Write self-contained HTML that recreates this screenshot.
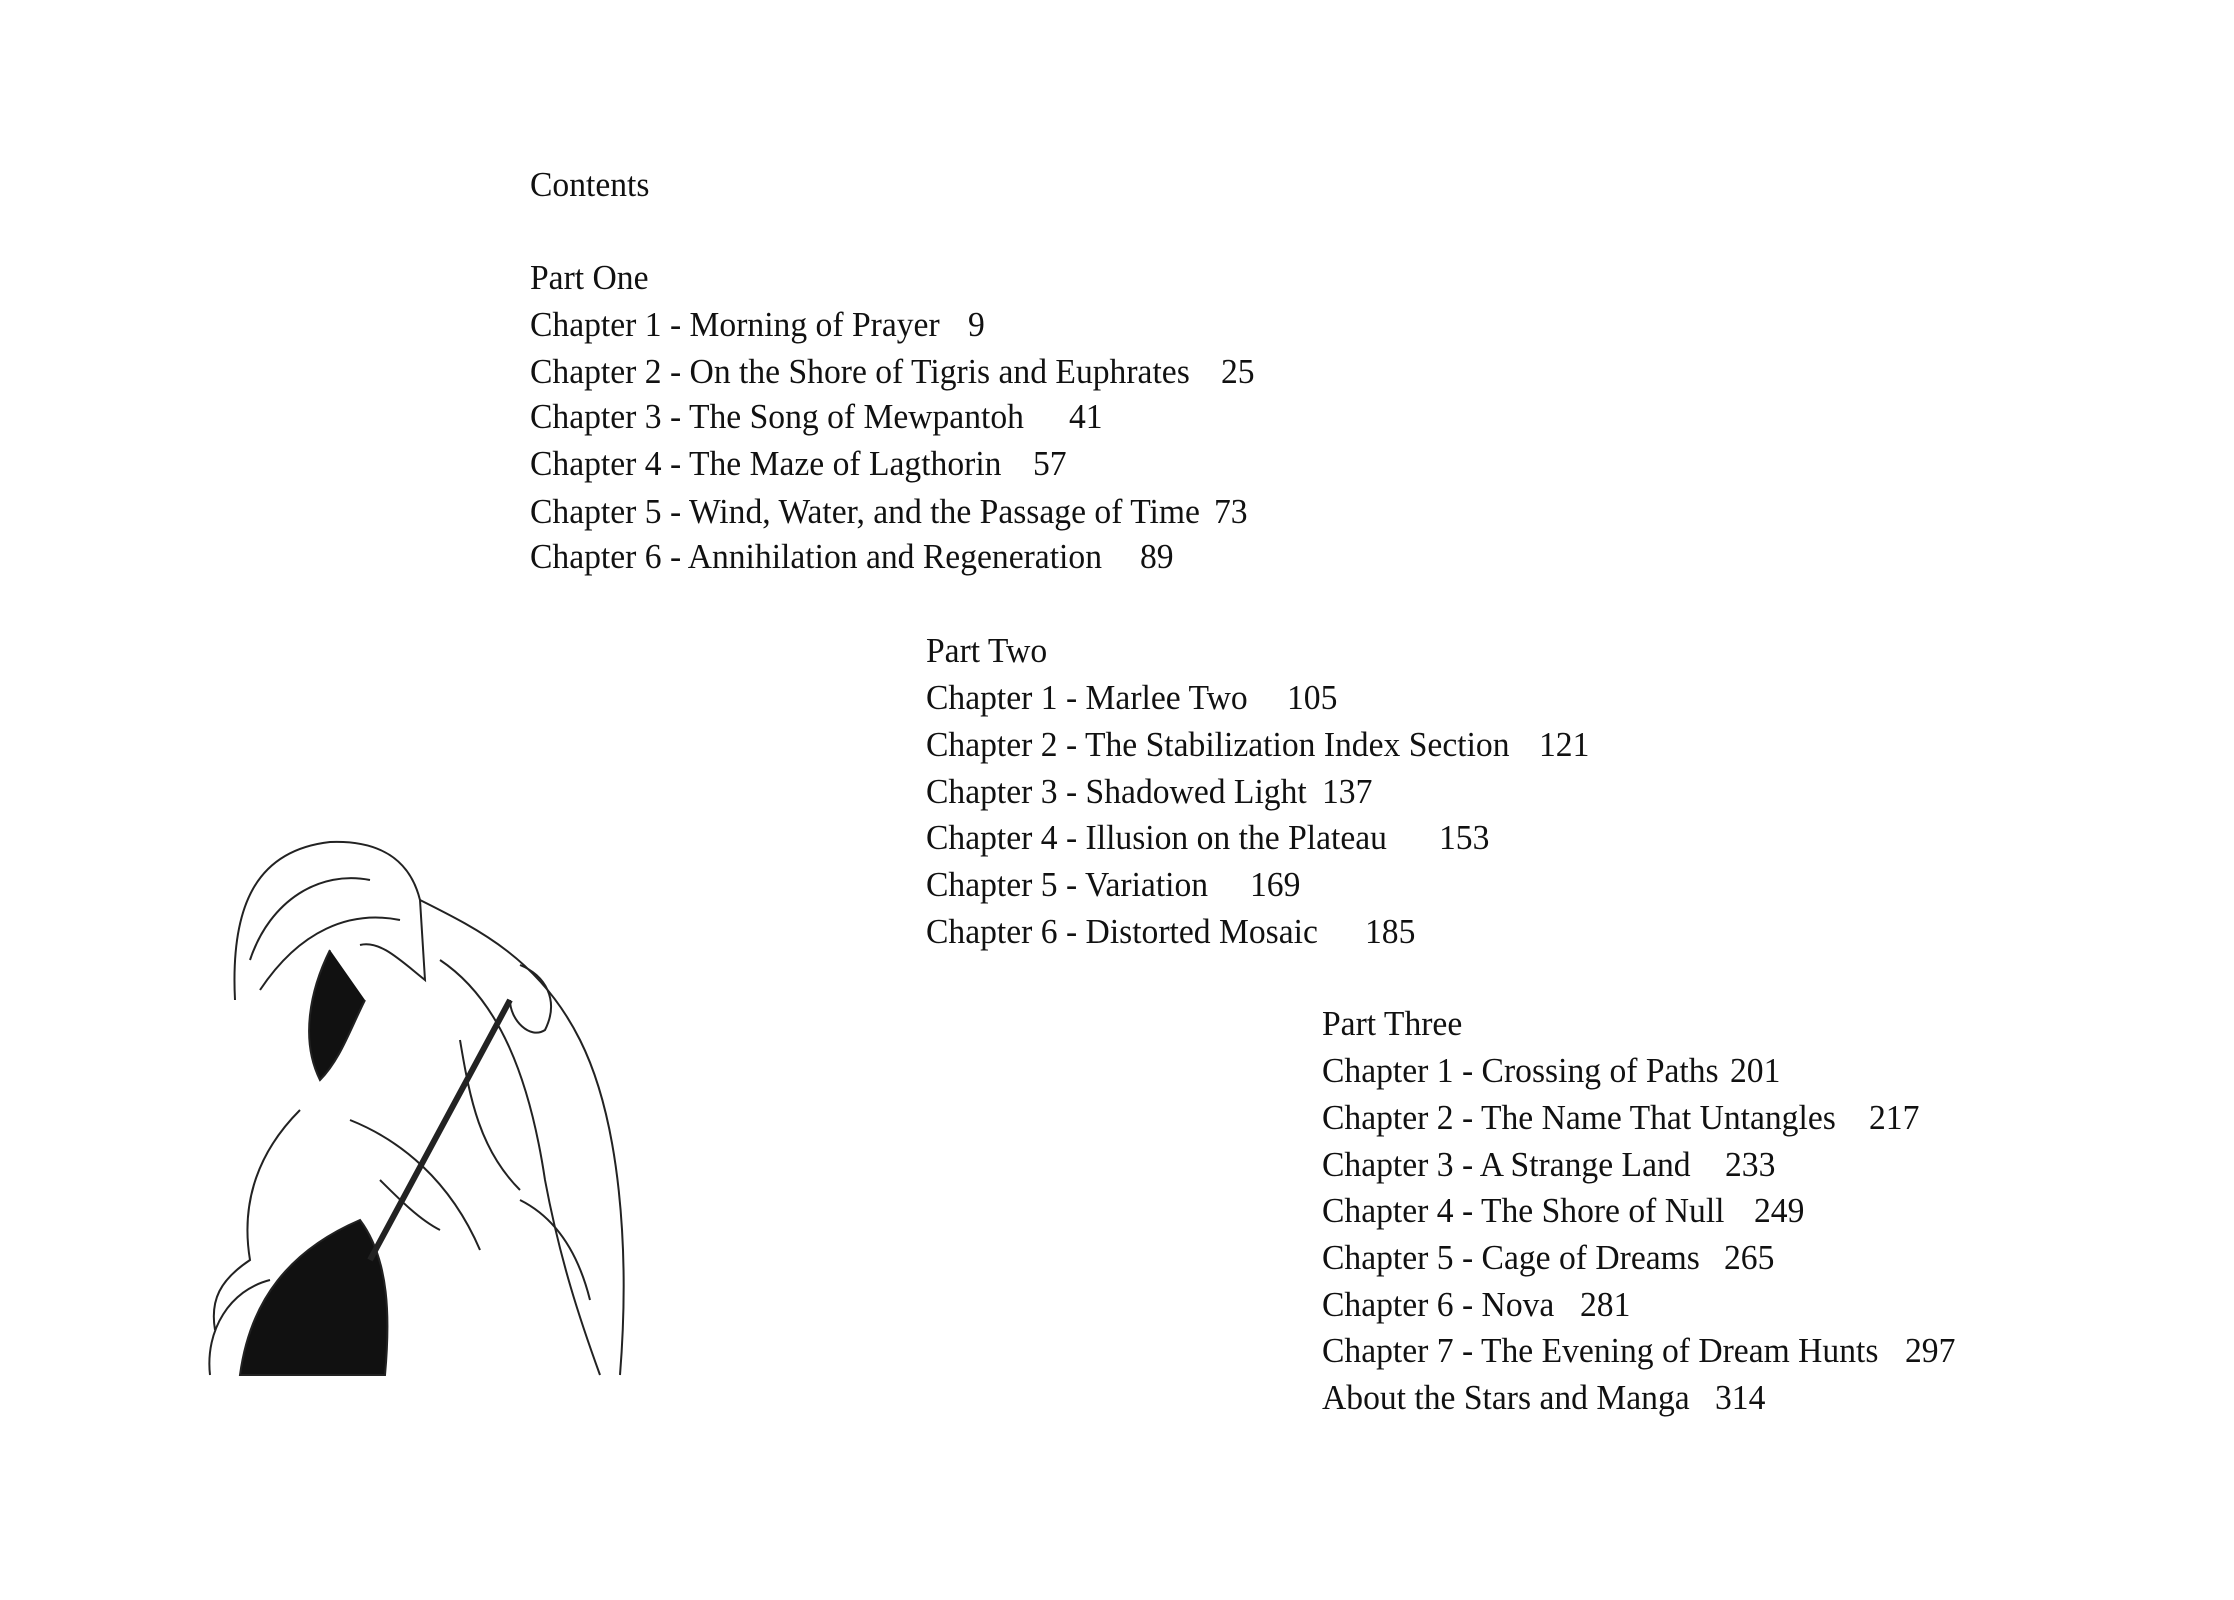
<!DOCTYPE html>
<html><head><meta charset="utf-8"><style>
html,body{margin:0;padding:0;background:#fff;}
#p{position:relative;width:2234px;height:1600px;overflow:hidden;background:#fff;}
.l,.n{position:absolute;font-family:"Liberation Serif",serif;font-size:35px;line-height:40px;color:#111;white-space:nowrap;transform:scaleX(0.96);transform-origin:left center;}
</style></head><body><div id="p">
<div class="l" style="left:530px;top:165px">Contents</div>

<div class="l" style="left:530px;top:258px">Part One</div>
<div class="l" style="left:530px;top:305px">Chapter 1 - Morning of Prayer</div><div class="n" style="left:968px;top:305px">9</div>
<div class="l" style="left:530px;top:352px">Chapter 2 - On the Shore of Tigris and Euphrates</div><div class="n" style="left:1221px;top:352px">25</div>
<div class="l" style="left:530px;top:397px">Chapter 3 - The Song of Mewpantoh</div><div class="n" style="left:1069px;top:397px">41</div>
<div class="l" style="left:530px;top:444px">Chapter 4 - The Maze of Lagthorin</div><div class="n" style="left:1033px;top:444px">57</div>
<div class="l" style="left:530px;top:492px">Chapter 5 - Wind, Water, and the Passage of Time</div><div class="n" style="left:1214px;top:492px">73</div>
<div class="l" style="left:530px;top:537px">Chapter 6 - Annihilation and Regeneration</div><div class="n" style="left:1140px;top:537px">89</div>

<div class="l" style="left:926px;top:631px">Part Two</div>
<div class="l" style="left:926px;top:678px">Chapter 1 - Marlee Two</div><div class="n" style="left:1287px;top:678px">105</div>
<div class="l" style="left:926px;top:725px">Chapter 2 - The Stabilization Index Section</div><div class="n" style="left:1539px;top:725px">121</div>
<div class="l" style="left:926px;top:772px">Chapter 3 - Shadowed Light</div><div class="n" style="left:1322px;top:772px">137</div>
<div class="l" style="left:926px;top:818px">Chapter 4 - Illusion on the Plateau</div><div class="n" style="left:1439px;top:818px">153</div>
<div class="l" style="left:926px;top:865px">Chapter 5 - Variation</div><div class="n" style="left:1250px;top:865px">169</div>
<div class="l" style="left:926px;top:912px">Chapter 6 - Distorted Mosaic</div><div class="n" style="left:1365px;top:912px">185</div>

<div class="l" style="left:1322px;top:1004px">Part Three</div>
<div class="l" style="left:1322px;top:1051px">Chapter 1 - Crossing of Paths</div><div class="n" style="left:1730px;top:1051px">201</div>
<div class="l" style="left:1322px;top:1098px">Chapter 2 - The Name That Untangles</div><div class="n" style="left:1869px;top:1098px">217</div>
<div class="l" style="left:1322px;top:1145px">Chapter 3 - A Strange Land</div><div class="n" style="left:1725px;top:1145px">233</div>
<div class="l" style="left:1322px;top:1191px">Chapter 4 - The Shore of Null</div><div class="n" style="left:1754px;top:1191px">249</div>
<div class="l" style="left:1322px;top:1238px">Chapter 5 - Cage of Dreams</div><div class="n" style="left:1724px;top:1238px">265</div>
<div class="l" style="left:1322px;top:1285px">Chapter 6 - Nova</div><div class="n" style="left:1580px;top:1285px">281</div>
<div class="l" style="left:1322px;top:1331px">Chapter 7 - The Evening of Dream Hunts</div><div class="n" style="left:1905px;top:1331px">297</div>
<div class="l" style="left:1322px;top:1378px">About the Stars and Manga</div><div class="n" style="left:1715px;top:1378px">314</div>

<svg style="position:absolute;left:0;top:0" width="2234" height="1600" fill="none" stroke="#222" stroke-width="2">
<path d="M235 1000 C230 900 260 850 330 842 C380 840 410 860 420 900 L425 980 C400 960 380 940 360 945"/>
<path d="M250 960 C270 900 320 870 370 880"/>
<path d="M260 990 C300 930 350 910 400 920"/>
<path d="M330 950 C310 990 300 1040 320 1080 C340 1060 350 1030 365 1000" fill="#111"/>
<path d="M420 900 C480 930 540 960 580 1040 C620 1120 630 1250 620 1375"/>
<path d="M440 960 C500 1000 530 1080 545 1180 C560 1260 580 1320 600 1375"/>
<path d="M460 1040 C470 1100 480 1150 520 1190"/>
<path d="M300 1110 C260 1150 240 1200 250 1260 C220 1280 210 1300 215 1330"/>
<path d="M350 1120 C400 1140 450 1180 480 1250"/>
<path d="M240 1375 C250 1300 290 1250 360 1220 C390 1260 390 1320 385 1375 Z" fill="#111"/>
<path d="M510 1000 L370 1260" stroke-width="6"/>
<path d="M520 965 C545 975 560 1000 545 1030 C530 1040 510 1020 510 1000"/>
<path d="M380 1180 C400 1200 420 1220 440 1230"/>
<path d="M210 1375 C205 1330 230 1290 270 1280"/>
<path d="M520 1200 C560 1220 580 1260 590 1300"/>
</svg>
</div></body></html>
